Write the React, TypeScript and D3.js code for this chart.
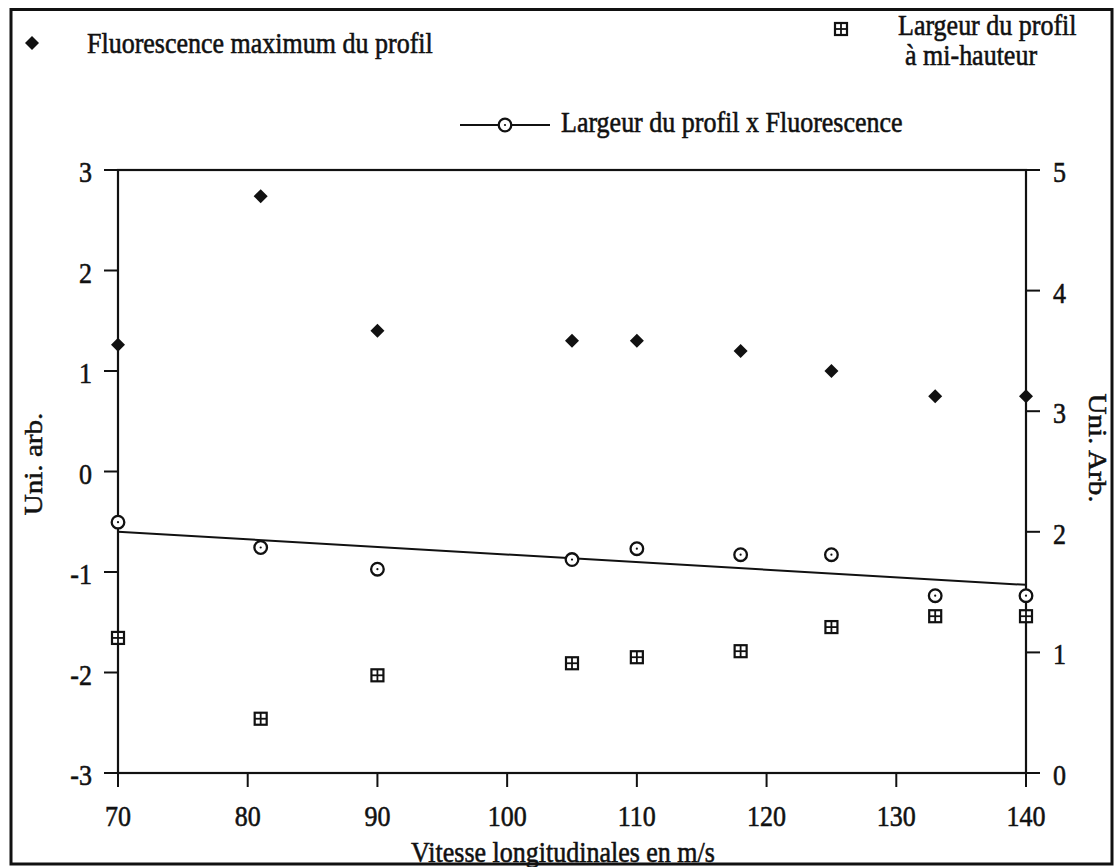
import React from "react";
import * as d3 from "d3";

// ---- data ----
const vitesse = [70, 81, 90, 105, 110, 118, 125, 133, 140];
const fluorescenceMax = [1.26, 2.74, 1.4, 1.3, 1.3, 1.2, 1.0, 0.75, 0.75];
const largeurMiHauteur = [1.12, 0.45, 0.81, 0.91, 0.96, 1.01, 1.21, 1.3, 1.3];
const largeurXFluo = [2.08, 1.87, 1.69, 1.77, 1.86, 1.81, 1.81, 1.47, 1.47];
const trendX = [70, 140];
const trendY = [2.0, 1.56];
const xTicks = [70, 80, 90, 100, 110, 120, 130, 140];
const leftTicks = [-3, -2, -1, 0, 1, 2, 3];
const rightTicks = [0, 1, 2, 3, 4, 5];

const FONT = "'Liberation Serif', 'Times New Roman', serif";
const FS = 26;
const SY = 1.12;

function T({ x, y, anchor = "start", rotate = 0, children }: any) {
  return (
    <g transform={`translate(${x},${y}) scale(1,${SY})${rotate ? ` rotate(${rotate})` : ""}`}>
      <text
        textAnchor={anchor}
        fontFamily={FONT}
        fontSize={FS}
        fill="#111"
        stroke="#111"
        strokeWidth={0.5}
      >
        {children}
      </text>
    </g>
  );
}

function Diamond({ x, y }: any) {
  const s = 7;
  return <path d={`M${x},${y - s}L${x + s},${y}L${x},${y + s}L${x - s},${y}Z`} fill="#111" />;
}

function BoxCross({ x, y }: any) {
  const h = 6;
  return (
    <g stroke="#111" fill="#fff">
      <rect x={x - h} y={y - h} width={2 * h} height={2 * h} strokeWidth={2.2} />
      <line x1={x - h} x2={x + h} y1={y} y2={y} strokeWidth={1.8} />
      <line x1={x} x2={x} y1={y - h} y2={y + h} strokeWidth={1.8} />
    </g>
  );
}

function CircDot({ x, y }: any) {
  return (
    <g>
      <circle cx={x} cy={y} r={6.3} fill="#fff" stroke="#111" strokeWidth={2.3} />
      <circle cx={x} cy={y} r={1.1} fill="#111" />
    </g>
  );
}

export default function App() {
  const x = d3.scaleLinear().domain([70, 140]).range([118, 1026]);
  const yL = d3.scaleLinear().domain([-3, 3]).range([773, 170]);
  const yR = d3.scaleLinear().domain([0, 5]).range([773, 170]);
  const tick = 14;
  const line = d3
    .line<number>()
    .x((_, i) => x(trendX[i]))
    .y((d) => yR(d));

  return (
    <svg
      width={1118}
      height={867}
      style={{ position: "absolute", left: 0, top: 0, background: "#fff" }}
    >
      <rect x={0} y={0} width={1118} height={867} fill="#fff" />
      {/* outer frame */}
      <rect x={11} y={9.5} width={1101} height={854.5} fill="none" stroke="#111" strokeWidth={3} />

      {/* plot box */}
      <rect
        x={x(70)}
        y={yL(3)}
        width={x(140) - x(70)}
        height={yL(-3) - yL(3)}
        fill="none"
        stroke="#111"
        strokeWidth={2.2}
      />

      {/* left ticks */}
      {leftTicks.map((t) => (
        <g key={"l" + t}>
          <line x1={x(70) - tick} x2={x(70)} y1={yL(t)} y2={yL(t)} stroke="#111" strokeWidth={2} />
          <T x={92} y={yL(t) + 12} anchor="end">
            {t}
          </T>
        </g>
      ))}
      {/* right ticks */}
      {rightTicks.map((t) => (
        <g key={"r" + t}>
          <line x1={x(140)} x2={x(140) + tick} y1={yR(t)} y2={yR(t)} stroke="#111" strokeWidth={2} />
          <T x={1053} y={yR(t) + 12} anchor="start">
            {t}
          </T>
        </g>
      ))}
      {/* bottom ticks */}
      {xTicks.map((t) => (
        <g key={"b" + t}>
          <line x1={x(t)} x2={x(t)} y1={yL(-3)} y2={yL(-3) + tick} stroke="#111" strokeWidth={2} />
          <T x={x(t)} y={826} anchor="middle">
            {t}
          </T>
        </g>
      ))}

      {/* axis titles */}
      <T x={42} y={464} anchor="middle" rotate={-90}>
        Uni. arb.
      </T>
      <T x={1089} y={448} anchor="middle" rotate={90}>
        Uni. Arb.
      </T>
      <T x={563} y={862} anchor="middle">
        Vitesse longitudinales en m/s
      </T>

      {/* trend line */}
      <path d={line(trendY) || ""} fill="none" stroke="#111" strokeWidth={2} />

      {/* data */}
      {vitesse.map((v, i) => (
        <Diamond key={"d" + i} x={x(v)} y={yL(fluorescenceMax[i])} />
      ))}
      {vitesse.map((v, i) => (
        <CircDot key={"c" + i} x={x(v)} y={yR(largeurXFluo[i])} />
      ))}
      {vitesse.map((v, i) => (
        <BoxCross key={"s" + i} x={x(v)} y={yR(largeurMiHauteur[i])} />
      ))}

      {/* legends */}
      <Diamond x={32} y={43} />
      <T x={87} y={53}>Fluorescence maximum du profil</T>

      <BoxCross x={841} y={29} />
      <T x={898} y={35}>Largeur du profil</T>
      <T x={905} y={65}>à mi-hauteur</T>

      <line x1={460} x2={550} y1={125} y2={125} stroke="#111" strokeWidth={2} />
      <CircDot x={505} y={125} />
      <T x={561} y={132}>Largeur du profil x Fluorescence</T>
    </svg>
  );
}
